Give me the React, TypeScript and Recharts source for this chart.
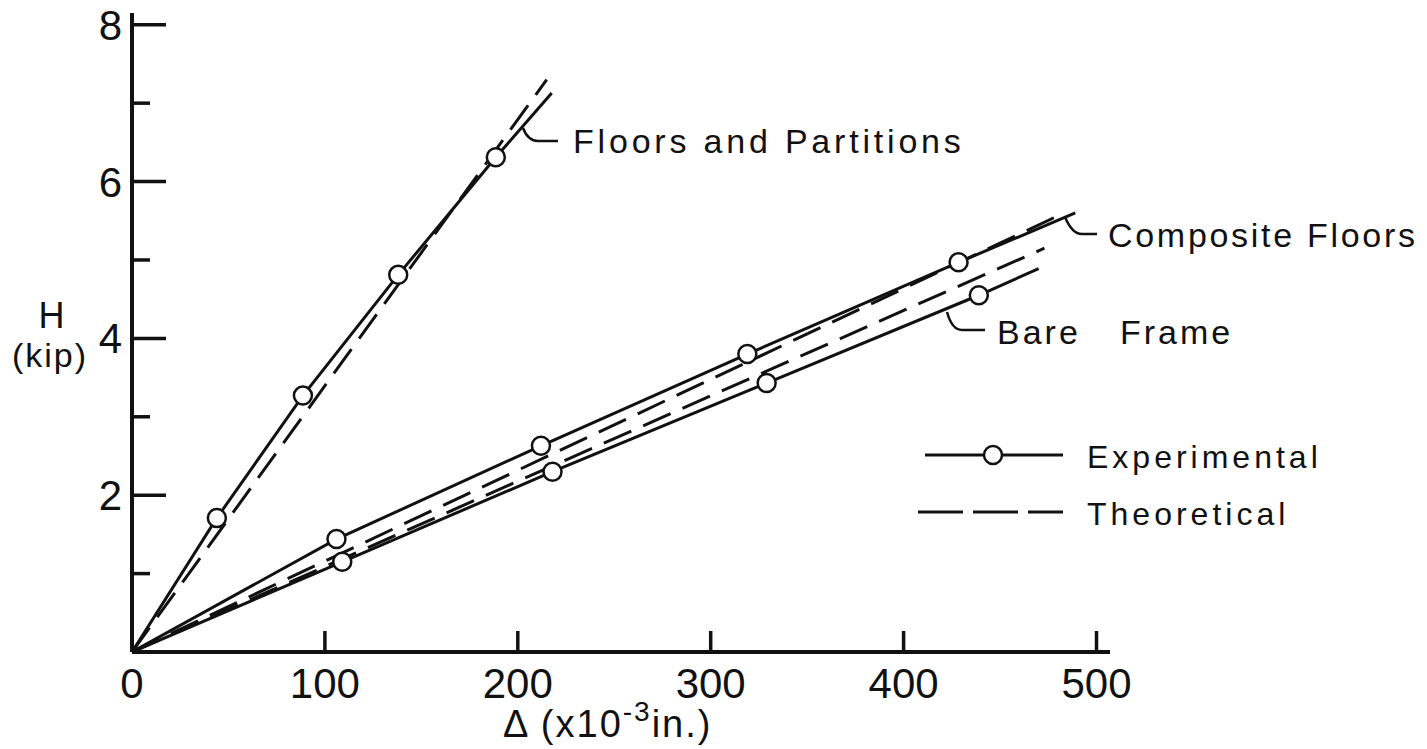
import React from "react";
import { ComposedChart, Line, XAxis, YAxis } from "recharts";

// Δ in 10^-3 in., H in kip
const floorsExpDelta = [0, 44, 88.6, 138, 188.6, 217.6];
const floorsExpH = [0, 1.71, 3.27, 4.81, 6.31, 7.13];
const floorsTheoDelta = [0, 215];
const floorsTheoH = [0, 7.3];

const compositeExpDelta = [0, 106, 212, 319, 428.5, 489];
const compositeExpH = [0, 1.44, 2.63, 3.8, 4.97, 5.6];
const compositeTheoDelta = [0, 478];
const compositeTheoH = [0, 5.54];

const bareExpDelta = [0, 109, 218, 329, 439, 470];
const bareExpH = [0, 1.15, 2.3, 3.43, 4.55, 4.89];
const bareTheoDelta = [0, 473];
const bareTheoH = [0, 5.15];

const xTicks = [0, 100, 200, 300, 400, 500];
const yTicks = [1, 2, 3, 4, 5, 6, 7, 8];
const yLabelled = [2, 4, 6, 8];

const rows = (d: number[], h: number[]) => d.map((v, i) => ({ d: v, h: h[i] }));

const FONT = "'Liberation Sans', Arial, sans-serif";
const INK = "#111";

const YTick = (props: any) => {
  const { x, y, payload } = props;
  const axisX = x + 10;
  const major = yLabelled.includes(payload.value);
  return (
    <g>
      <line x1={axisX} y1={y} x2={axisX + (major ? 34 : 18)} y2={y} stroke={INK} strokeWidth={3.5} />
      {major && (
        <text x={x} y={y} dy={15} textAnchor="end" fontSize={42} fontFamily={FONT} fill={INK}>
          {payload.value}
        </text>
      )}
    </g>
  );
};

const XTick = (props: any) => {
  const { x, y, payload } = props;
  return (
    <g>
      {payload.value > 0 && <line x1={x} y1={y} x2={x} y2={y - 21} stroke={INK} strokeWidth={3.5} />}
      <text x={x} y={y + 46} textAnchor="middle" fontSize={42} fontFamily={FONT} fill={INK}>
        {payload.value}
      </text>
    </g>
  );
};

const expDot = (len: number) => (props: any) => {
  const { cx, cy, index } = props;
  if (index === 0 || index === len - 1) return <g key={`n${index}`} />;
  return <circle key={`c${index}`} cx={cx} cy={cy} r={9} fill="#fff" stroke={INK} strokeWidth={2.5} />;
};

const solid = { stroke: INK, strokeWidth: 3, type: "linear" as const, isAnimationActive: false, activeDot: false };
const dashed = { ...solid, strokeDasharray: "30 13", dot: false };

export default function App() {
  return (
    <div style={{ position: "absolute", left: 0, top: 0, width: 1427, height: 749, background: "#fff" }}>
      <ComposedChart width={1427} height={749} margin={{ top: 13, right: 317, bottom: 0, left: 0 }}>
        <XAxis
          dataKey="d"
          type="number"
          domain={[0, 507]}
          ticks={xTicks}
          tickSize={0}
          tickMargin={0}
          tickLine={false}
          axisLine={{ stroke: INK, strokeWidth: 4 }}
          tick={<XTick />}
          height={97}
          allowDataOverflow
        />
        <YAxis
          dataKey="h"
          type="number"
          domain={[0, 8.15]}
          ticks={yTicks}
          tickSize={0}
          tickMargin={10}
          tickLine={false}
          axisLine={{ stroke: INK, strokeWidth: 4 }}
          tick={<YTick />}
          width={132}
          allowDataOverflow
        />
        <Line data={rows(floorsTheoDelta, floorsTheoH)} dataKey="h" {...dashed} />
        <Line data={rows(compositeTheoDelta, compositeTheoH)} dataKey="h" {...dashed} />
        <Line data={rows(bareTheoDelta, bareTheoH)} dataKey="h" {...dashed} />
        <Line data={rows(floorsExpDelta, floorsExpH)} dataKey="h" {...solid} dot={expDot(floorsExpDelta.length)} />
        <Line data={rows(compositeExpDelta, compositeExpH)} dataKey="h" {...solid} dot={expDot(compositeExpDelta.length)} />
        <Line data={rows(bareExpDelta, bareExpH)} dataKey="h" {...solid} dot={expDot(bareExpDelta.length)} />
      </ComposedChart>

      <svg width={1427} height={749} style={{ position: "absolute", left: 0, top: 0, pointerEvents: "none" }}>
        <g fontFamily={FONT} fill={INK}>
          {/* axis titles */}
          <text x={52} y={328} textAnchor="middle" fontSize={36} letterSpacing={1}>H</text>
          <text x={50} y={367} textAnchor="middle" fontSize={34} letterSpacing={2}>(kip)</text>
          <text x={503} y={737} fontSize={38} letterSpacing={2}>
            Δ (x10<tspan dy={-16} fontSize={28}>-3</tspan>
            <tspan dy={16}>in.)</tspan>
          </text>

          {/* curve labels */}
          <path d="M523 128 Q528 141 538 141 L558 141" fill="none" stroke={INK} strokeWidth={2.5} />
          <text x={573} y={153} fontSize={34} letterSpacing={3.8}>Floors and Partitions</text>

          <path d="M1065 217 Q1072 234 1082 234 L1097 234" fill="none" stroke={INK} strokeWidth={2.5} />
          <text x={1108} y={247} fontSize={34} letterSpacing={2.7}>Composite Floors</text>

          <path d="M947 312 Q952 330 962 330 L985 330" fill="none" stroke={INK} strokeWidth={2.5} />
          <text x={997} y={344} fontSize={34} letterSpacing={3}>Bare</text>
          <text x={1120} y={344} fontSize={34} letterSpacing={3}>Frame</text>

          {/* legend */}
          <line x1={925} y1={455} x2={1063} y2={455} stroke={INK} strokeWidth={3} />
          <circle cx={993} cy={455} r={9} fill="#fff" stroke={INK} strokeWidth={2.5} />
          <text x={1087} y={468} fontSize={32} letterSpacing={4}>Experimental</text>
          <line x1={918} y1={512} x2={1063} y2={512} stroke={INK} strokeWidth={3} strokeDasharray="45 10" />
          <text x={1087} y={525} fontSize={32} letterSpacing={4}>Theoretical</text>
        </g>
      </svg>
    </div>
  );
}
